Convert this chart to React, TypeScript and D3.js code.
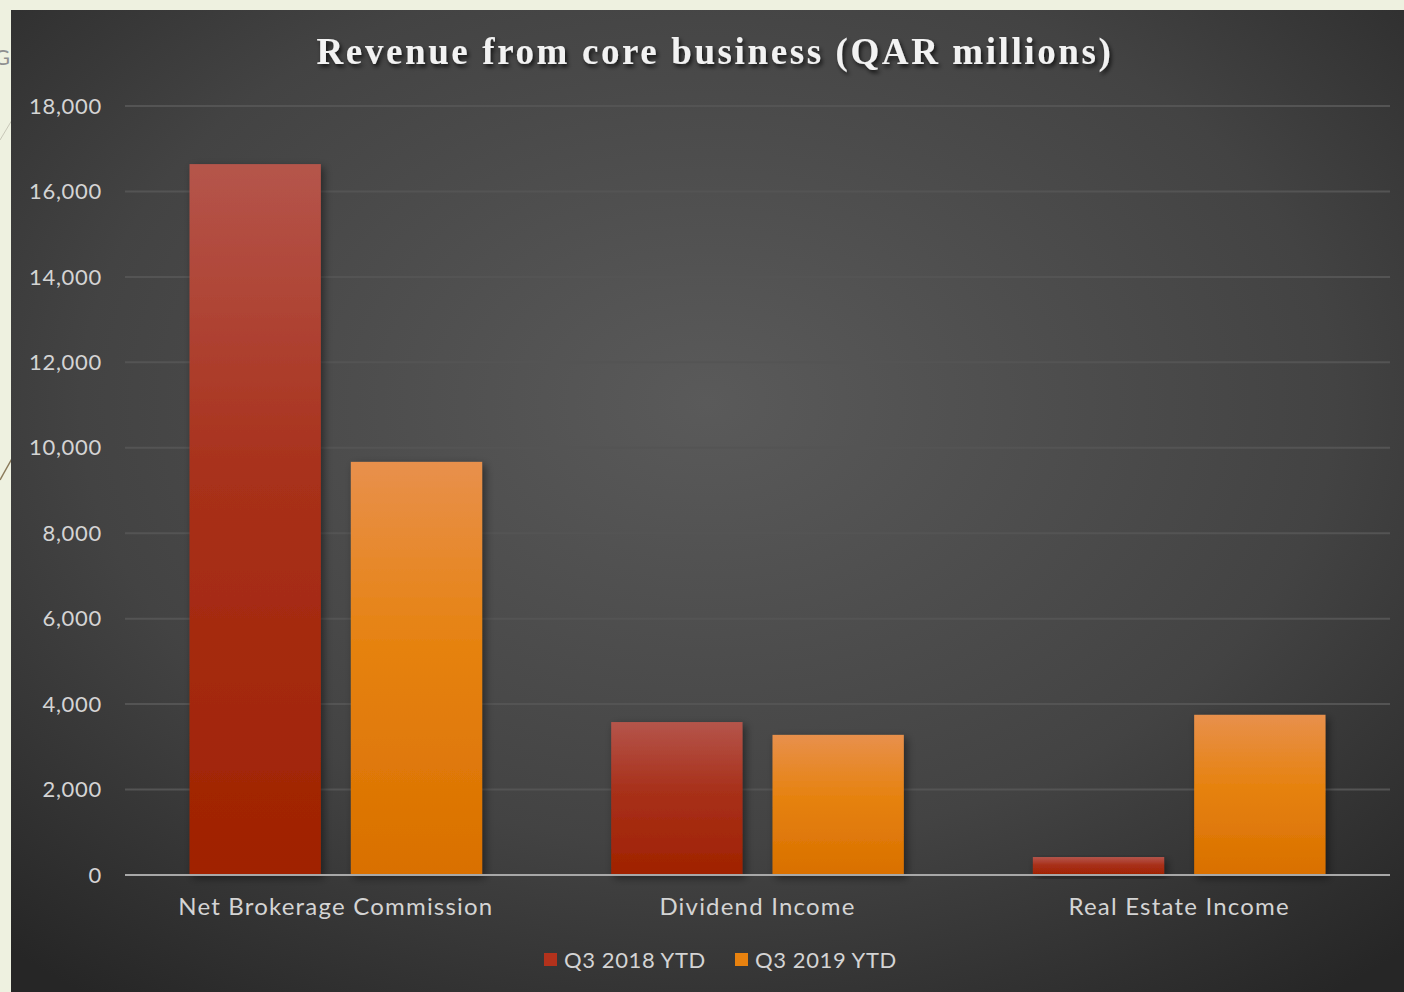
import React from "react";
import * as d3 from "d3";

const categories = ["Net Brokerage Commission", "Dividend Income", "Real Estate Income"];
const seriesNames = ["Q3 2018 YTD", "Q3 2019 YTD"];
const q3_2018 = [16640, 3580, 420];
const q3_2019 = [9670, 3280, 3750];
const yTicks = [0, 2000, 4000, 6000, 8000, 10000, 12000, 14000, 16000, 18000];

const W = 1404;
const H = 992;
const panel = { x: 11, y: 10, w: 1393, h: 982 };
const plot = { left: 125, right: 1390, top: 106, bottom: 875 };

export default function App() {
  const x0 = d3.scaleBand<string>().domain(categories).range([plot.left, plot.right]).paddingInner(0).paddingOuter(0);
  const x1 = d3.scaleBand<string>().domain(seriesNames).range([0, x0.bandwidth()]).paddingInner(0.186).paddingOuter(0.4);
  const y = d3.scaleLinear().domain([0, 18000]).range([plot.bottom, plot.top]);
  const fmt = d3.format(",");
  const values = [q3_2018, q3_2019];
  const grads = ["gRed", "gOrange"];
  const swatch = ["#b3321c", "#e8820f"];
  const font = "'Lato', 'Noto Sans', sans-serif";

  return (
    <svg width={W} height={H} style={{ position: "fixed", left: 0, top: 0 }}>
      <defs>
        <radialGradient id="bg" cx="0.5" cy="0.4" r="0.75">
          <stop offset="0" stopColor="#5a5a5a" />
          <stop offset="0.6" stopColor="#434343" />
          <stop offset="1" stopColor="#262626" />
        </radialGradient>
        <linearGradient id="gRed" x1="0" y1="0" x2="0" y2="1">
          <stop offset="0" stopColor="#b5554b" />
          <stop offset="0.45" stopColor="#a8301a" />
          <stop offset="1" stopColor="#a02200" />
        </linearGradient>
        <linearGradient id="gOrange" x1="0" y1="0" x2="0" y2="1">
          <stop offset="0" stopColor="#e8904c" />
          <stop offset="0.45" stopColor="#e6820f" />
          <stop offset="1" stopColor="#d97000" />
        </linearGradient>
        <filter id="shadow" x="-10%" y="-10%" width="130%" height="130%">
          <feDropShadow dx="3" dy="3" stdDeviation="4" floodColor="#000" floodOpacity="0.45" />
        </filter>
        <filter id="tshadow" x="-5%" y="-30%" width="110%" height="170%">
          <feDropShadow dx="2" dy="3" stdDeviation="2" floodColor="#000" floodOpacity="0.7" />
        </filter>
      </defs>
      <rect x={0} y={0} width={W} height={H} fill="#eef1e0" />
      <line x1={0} y1={140} x2={30} y2={90} stroke="#c8c8b8" strokeWidth={1} />
      <line x1={0} y1={480} x2={14} y2={455} stroke="#8a7a5a" strokeWidth={1.5} />
      <text x={-6} y={65} fontFamily={font} fontSize={22} fill="#909090">G</text>
      <rect x={panel.x} y={panel.y} width={panel.w} height={panel.h} fill="url(#bg)" />
      <text
        x={715}
        y={64}
        textAnchor="middle"
        fontFamily="'Liberation Serif', 'DejaVu Serif', serif"
        fontWeight="bold"
        fontSize={37}
        letterSpacing={2.6}
        fill="#f2f2f2"
        filter="url(#tshadow)"
      >
        Revenue from core business (QAR millions)
      </text>
      {yTicks.map((t) => (
        <g key={t}>
          {t > 0 && (
            <line x1={plot.left} x2={plot.right} y1={y(t)} y2={y(t)} stroke="#545454" strokeWidth={2} />
          )}
          <text x={102} y={y(t)} dy="0.35em" textAnchor="end" fontFamily={font} fontSize={22} letterSpacing={0.7} fill="#d4d4d4">
            {fmt(t)}
          </text>
        </g>
      ))}
      {categories.map((c, i) => (
        <g key={c}>
          {seriesNames.map((s, j) => {
            const v = values[j][i];
            const bx = (x0(c) as number) + (x1(s) as number);
            return (
              <rect
                key={s}
                x={bx}
                y={y(v)}
                width={x1.bandwidth()}
                height={y(0) - y(v)}
                fill={`url(#${grads[j]})`}
                filter="url(#shadow)"
              />
            );
          })}
          <text
            x={(x0(c) as number) + x0.bandwidth() / 2}
            y={907}
            dy="0.35em"
            textAnchor="middle"
            fontFamily={font}
            fontSize={24}
            letterSpacing={1.2}
            fill="#d4d4d4"
          >
            {c}
          </text>
        </g>
      ))}
      <line x1={plot.left} x2={plot.right} y1={y(0)} y2={y(0)} stroke="#a8a8a8" strokeWidth={2} />
      {seriesNames.map((s, j) => {
        const lx = j === 0 ? 544 : 735;
        return (
          <g key={s}>
            <rect x={lx} y={953} width={13} height={13} fill={swatch[j]} />
            <text x={lx + 20} y={960} dy="0.35em" fontFamily={font} fontSize={22} letterSpacing={0.6} fill="#d4d4d4">
              {s}
            </text>
          </g>
        );
      })}
    </svg>
  );
}
